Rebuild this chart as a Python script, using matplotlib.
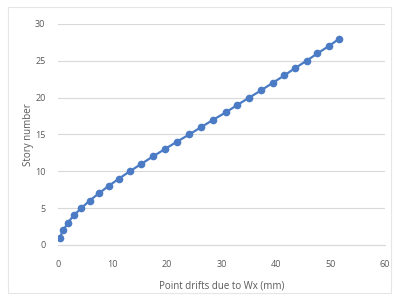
import matplotlib
matplotlib.use("Agg")
import matplotlib.pyplot as plt
from matplotlib.patches import Rectangle

drift_mm = [0.3, 1.0, 1.8, 2.9, 4.3, 5.8, 7.5, 9.3, 11.2, 13.2, 15.3, 17.4, 19.6,
            21.8, 24.1, 26.3, 28.5, 30.8, 32.9, 35.1, 37.3, 39.4, 41.5, 43.5,
            45.6, 47.6, 49.7, 51.6]
story = list(range(1, 29))
x_ticks = [0, 10, 20, 30, 40, 50, 60]
y_ticks = [0, 5, 10, 15, 20, 25, 30]

plt.rcParams['font.family'] = ['Open Sans', 'DejaVu Sans']
fig = plt.figure(figsize=(3.97, 2.99), dpi=100)
fig.patches.append(Rectangle((0.02, 0.02), 0.965, 0.955, transform=fig.transFigure,
                             fill=False, edgecolor='#e6e6e6', linewidth=0.8))
ax = fig.add_axes([0.146, 0.181, 0.824, 0.739])
ax.plot(drift_mm, story, color='#4a7bc4', linewidth=1.6, marker='o', markersize=4.5)
ax.set_xlim(0, 60)
ax.set_ylim(0, 30)
ax.set_xticks(x_ticks)
ax.set_yticks(y_ticks)
ax.grid(axis='y', color='#d9d9d9', linewidth=0.8)
ax.set_axisbelow(True)
for s in ['top', 'right', 'left']:
    ax.spines[s].set_visible(False)
ax.spines['bottom'].set_color('#d9d9d9')
ax.tick_params(axis='y', length=0, labelsize=6.5, colors='#595959', pad=9)
ax.tick_params(axis='x', length=0, labelsize=6.5, colors='#595959', pad=11)
ax.set_xlabel('Point drifts due to Wx (mm)', fontsize=7, color='#595959', labelpad=8)
ax.set_ylabel('Story number', fontsize=7, color='#595959')
ax.yaxis.set_label_coords(-0.074, 0.5)
fig.savefig('out.png', dpi=100)
